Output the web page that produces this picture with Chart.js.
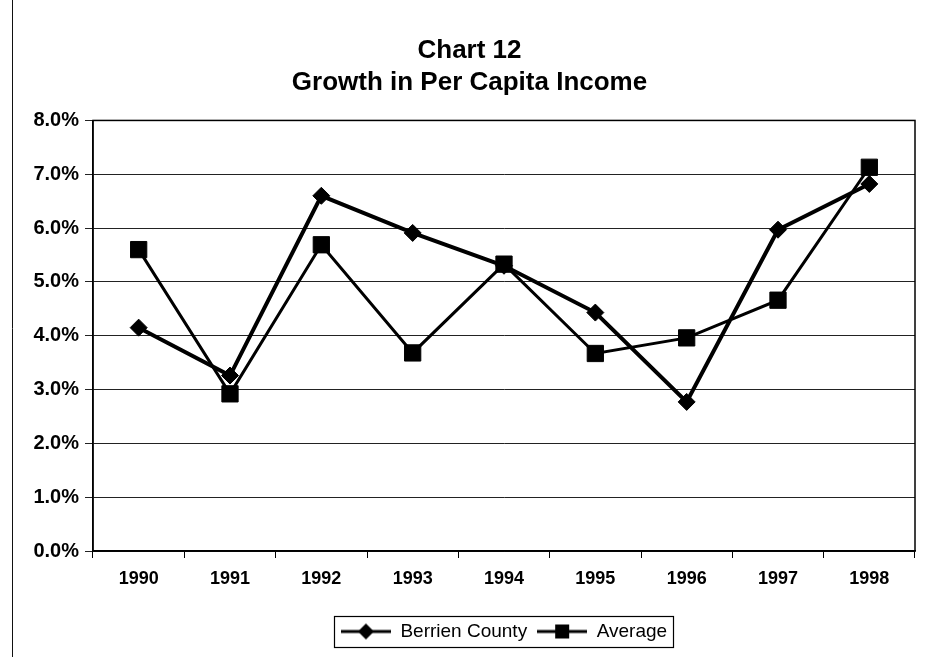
<!DOCTYPE html>
<html lang="en">
  <head>
    <meta charset="UTF-8" />
    <title>Chart 12 - Growth in Per Capita Income</title>
    <script src="https://cdn.jsdelivr.net/npm/chart.js@4.4.1/dist/chart.umd.min.js"></script>
    <style>
      body { margin: 0; background: #fff; }
      .chart-container { width: 931px; height: 657px; }
    </style>
  </head>
  <body>
    <div class="chart-container">
      <canvas id="growthChart"></canvas>
    </div>
    <script>
      // data (percent)
      const years = ["1990", "1991", "1992", "1993", "1994", "1995", "1996", "1997", "1998"];
      const berrien = [4.15, 3.26, 6.6, 5.91, 5.3, 4.43, 2.77, 5.97, 6.82];
      const average = [5.6, 2.92, 5.69, 3.68, 5.33, 3.67, 3.96, 4.66, 7.13];
      const yTicks = [0, 1, 2, 3, 4, 5, 6, 7, 8];

      const FONT = "Arial, 'Liberation Sans', sans-serif";

      // legend icons: short line with the marker in the middle
      function legendIcon(shape) {
        const c = document.createElement("canvas");
        c.width = 50;
        c.height = 20;
        const g = c.getContext("2d");
        g.strokeStyle = "#000";
        g.fillStyle = "#000";
        g.lineWidth = 3;
        g.beginPath();
        g.moveTo(0, 10);
        g.lineTo(50, 10);
        g.stroke();
        g.beginPath();
        if (shape === "diamond") {
          g.moveTo(25, 2); g.lineTo(33, 10); g.lineTo(25, 18); g.lineTo(17, 10);
        } else {
          g.rect(18, 3, 14, 14);
        }
        g.fill();
        return c;
      }

      const frame = {
        id: "frame",
        beforeDraw(chart) {
          const g = chart.ctx;
          g.save();
          g.fillStyle = "#fff";
          g.fillRect(0, 0, chart.width, chart.height);
          g.strokeStyle = "#111";
          g.lineWidth = 1;
          g.beginPath();
          g.moveTo(12.5, 0);
          g.lineTo(12.5, chart.height);
          g.stroke();
          g.restore();
        },
        afterDraw(chart) {
          const g = chart.ctx;
          const a = chart.chartArea;
          g.save();
          g.strokeStyle = "#000";
          g.lineWidth = 1.5;
          g.strokeRect(a.left, a.top, a.right - a.left, a.bottom - a.top);
          // box round the legend
          const boxes = chart.legend.legendHitBoxes;
          if (boxes && boxes.length) {
            const l = Math.min(...boxes.map((b) => b.left)) - 7;
            const r = Math.max(...boxes.map((b) => b.left + b.width)) + 6;
            const t = boxes[0].top - 6;
            const b = boxes[0].top + boxes[0].height + 6;
            g.lineWidth = 1.2;
            g.strokeRect(Math.round(l) + 0.5, Math.round(t) + 0.5, Math.round(r - l), Math.round(b - t));
          }
          g.restore();
        },
      };

      const ctx = document.getElementById("growthChart").getContext("2d");

      new Chart(ctx, {
        type: "line",
        data: {
          labels: years,
          datasets: [
            {
              label: "Berrien County",
              data: berrien,
              borderColor: "#000",
              backgroundColor: "#000",
              borderWidth: 4,
              pointStyle: "rectRot",
              pointRadius: 8.5,
              pointBorderWidth: 1,
              tension: 0,
            },
            {
              label: "Average",
              data: average,
              borderColor: "#000",
              backgroundColor: "#000",
              borderWidth: 3,
              pointStyle: "rect",
              pointRadius: 11.5,
              pointBorderWidth: 1,
              tension: 0,
            },
          ],
        },
        options: {
          responsive: true,
          maintainAspectRatio: false,
          animation: false,
          layout: { padding: { left: 24, right: 16, top: 0, bottom: 6 } },
          plugins: {
            title: {
              display: true,
              text: ["Chart 12", "Growth in Per Capita Income"],
              color: "#000",
              font: { family: FONT, size: 26, weight: "bold", lineHeight: 1.22 },
              padding: { top: 35, bottom: 22 },
            },
            legend: {
              position: "bottom",
              fullSize: false,
              labels: {
                color: "#000",
                font: { family: FONT, size: 19 },
                usePointStyle: true,
                pointStyleWidth: 50,
                padding: 10,
                generateLabels(chart) {
                  return chart.data.datasets.map((ds, i) => ({
                    text: ds.label,
                    pointStyle: legendIcon(i === 0 ? "diamond" : "square"),
                    datasetIndex: i,
                    fontColor: "#000",
                    lineWidth: 0,
                  }));
                },
              },
            },
            tooltip: { enabled: false },
          },
          scales: {
            x: {
              offset: true,
              grid: {
                offset: true,
                drawOnChartArea: false,
                color: "#000",
                tickLength: 7,
              },
              border: { color: "#000", width: 1.5 },
              ticks: {
                color: "#000",
                padding: 10,
                font: { family: FONT, size: 18, weight: "bold" },
              },
              afterFit(scale) {
                scale.height = 61;
              },
            },
            y: {
              min: 0,
              max: 8,
              afterBuildTicks(scale) {
                scale.ticks = yTicks.map((v) => ({ value: v }));
              },
              grid: { color: "#222", lineWidth: 1, tickLength: 8 },
              border: { color: "#000", width: 1.5 },
              ticks: {
                color: "#000",
                padding: 6,
                font: { family: FONT, size: 20, weight: "bold" },
                callback: (v) => v.toFixed(1) + "%",
              },
              afterFit(scale) {
                scale.width = 69;
              },
            },
          },
        },
        plugins: [frame],
      });
    </script>
  </body>
</html>
